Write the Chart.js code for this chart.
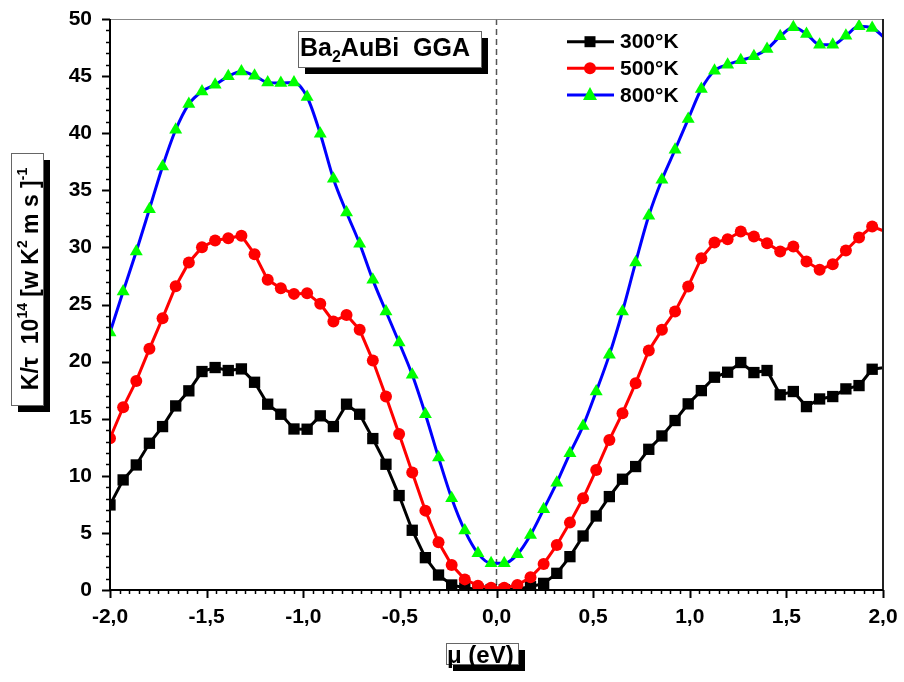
<!DOCTYPE html>
<html>
<head>
<meta charset="utf-8">
<script src="https://cdn.jsdelivr.net/npm/chart.js@4.4.1/dist/chart.umd.min.js"></script>
<style>
  html, body { margin: 0; padding: 0; background: #fff; }
  canvas { display: block; }
</style>
</head>
<body>
<canvas id="kappaChart" width="904" height="682"></canvas>
<script>
// chemical potential (eV), one entry per plotted marker
var mu = [-2.000, -1.932, -1.864, -1.796, -1.728, -1.660, -1.592, -1.524, -1.456, -1.388,
  -1.320, -1.252, -1.184, -1.116, -1.048, -0.980, -0.912, -0.844, -0.776, -0.708,
  -0.640, -0.572, -0.504, -0.436, -0.368, -0.300, -0.232, -0.164, -0.096, -0.028,
  0.040, 0.108, 0.176, 0.244, 0.312, 0.380, 0.448, 0.516, 0.584, 0.652,
  0.720, 0.788, 0.856, 0.924, 0.992, 1.060, 1.128, 1.196, 1.264, 1.332,
  1.400, 1.468, 1.536, 1.604, 1.672, 1.740, 1.808, 1.876, 1.944, 2.012];

// K/tau (10^14 W/K m s)
var k300 = [7.45, 9.64, 10.95, 12.85, 14.31, 16.12, 17.44, 19.13, 19.48, 19.22,
  19.36, 18.19, 16.27, 15.39, 14.10, 14.08, 15.25, 14.31, 16.27, 15.39,
  13.26, 11.01, 8.27, 5.23, 2.83, 1.31, 0.44, 0.18, 0.06, 0.02,
  0.02, 0.08, 0.29, 0.58, 1.46, 2.92, 4.73, 6.48, 8.18, 9.70,
  10.81, 12.32, 13.49, 14.84, 16.30, 17.46, 18.63, 19.07, 19.92, 19.04,
  19.22, 17.09, 17.38, 16.06, 16.73, 16.94, 17.61, 17.90, 19.33, 19.50];
var k500 = [13.29, 16.00, 18.31, 21.12, 23.80, 26.60, 28.68, 30.02, 30.61, 30.81,
  31.02, 29.41, 27.16, 26.43, 25.93, 25.99, 25.06, 23.51, 24.09, 22.78,
  20.09, 16.94, 13.67, 10.28, 6.95, 4.18, 2.19, 0.93, 0.38, 0.20,
  0.20, 0.44, 1.11, 2.28, 3.94, 5.90, 8.03, 10.51, 13.14, 15.48,
  18.11, 20.97, 22.78, 24.39, 26.58, 29.06, 30.43, 30.72, 31.40, 30.96,
  30.37, 29.64, 30.08, 28.77, 28.04, 28.53, 29.73, 30.87, 31.83, 31.40];
var k800 = [22.55, 26.14, 29.64, 33.35, 37.09, 40.30, 42.55, 43.66, 44.25, 44.98,
  45.41, 45.03, 44.45, 44.39, 44.45, 43.17, 39.95, 36.01, 33.06, 30.32,
  27.16, 24.39, 21.67, 18.84, 15.39, 11.60, 8.03, 5.20, 3.21, 2.34,
  2.34, 3.12, 4.82, 7.07, 9.40, 11.97, 14.37, 17.38, 20.59, 24.39,
  28.68, 32.77, 35.92, 38.55, 41.24, 43.87, 45.47, 46.00, 46.38, 46.73,
  47.37, 48.48, 49.27, 48.69, 47.75, 47.75, 48.54, 49.36, 49.21, 48.30];

var seriesNames = ['300°K', '500°K', '800°K'];

var FONT = '"Liberation Sans", Arial, sans-serif';

function pts(vals) {
  return mu.map(function(x, i) { return {x: x, y: vals[i]}; });
}
// no marker past the right edge of the axis
function rad(r) {
  return function(ctx) { return ctx.raw && ctx.raw.x > 2 ? 0 : r; };
}

// frame, ticks, boxes and legend drawn by hand
var decor = {
  id: 'decor',
  beforeDatasetsDraw: function(chart) {
    var c = chart.ctx, a = chart.chartArea;
    var x0 = chart.scales.x.getPixelForValue(0);
    c.save();
    c.strokeStyle = '#555';
    c.lineWidth = 1.5;
    c.setLineDash([6, 4]);
    c.beginPath();
    c.moveTo(x0, a.top);
    c.lineTo(x0, a.bottom);
    c.stroke();
    c.restore();
  },
  afterDraw: function(chart) {
    var c = chart.ctx, a = chart.chartArea;
    var xs = chart.scales.x, ys = chart.scales.y;
    c.save();
    // frame
    c.strokeStyle = '#888';
    c.lineWidth = 1;
    c.beginPath();
    c.moveTo(a.left, a.top + 0.5);
    c.lineTo(a.right, a.top + 0.5);
    c.stroke();
    c.strokeStyle = '#222';
    c.lineWidth = 2;
    c.beginPath();
    c.moveTo(a.right, a.top);
    c.lineTo(a.right, a.bottom);
    c.stroke();
    c.strokeStyle = '#000';
    c.beginPath();
    c.moveTo(a.left, a.top);
    c.lineTo(a.left, a.bottom);
    c.lineTo(a.right, a.bottom);
    c.stroke();

    // ticks
    for (var v = 0; v <= 50; v++) {
      var py = Math.round(ys.getPixelForValue(v)) + 0.5;
      var len = v % 5 === 0 ? 8 : 4;
      c.lineWidth = v % 5 === 0 ? 2 : 1.5;
      c.beginPath();
      c.moveTo(a.left - len, py);
      c.lineTo(a.left, py);
      c.stroke();
    }
    for (var i = 0; i <= 80; i++) {
      var px = Math.round(xs.getPixelForValue(-2 + i * 0.05)) + 0.5;
      var tl = i % 10 === 0 ? 8 : 4;
      c.lineWidth = i % 10 === 0 ? 2 : 1.5;
      c.beginPath();
      c.moveTo(px, a.bottom);
      c.lineTo(px, a.bottom + tl);
      c.stroke();
    }

    function box(x, y, w, h) {
      c.fillStyle = '#000';
      c.fillRect(x + 7, y + 7, w, h);
      c.fillStyle = '#fff';
      c.fillRect(x, y, w, h);
      c.strokeStyle = '#666';
      c.lineWidth = 1;
      c.strokeRect(x + 0.5, y + 0.5, w, h);
    }

    // title box
    box(298, 31, 183, 36);
    c.fillStyle = '#000';
    c.textBaseline = 'alphabetic';
    c.textAlign = 'left';
    c.font = 'bold 25px ' + FONT;
    c.fillText('Ba', 300, 56);
    var w1 = c.measureText('Ba').width;
    c.font = 'bold 16px ' + FONT;
    c.fillText('2', 300 + w1, 62);
    var w2 = c.measureText('2').width;
    c.font = 'bold 25px ' + FONT;
    c.fillText('AuBi  GGA', 300 + w1 + w2, 56);

    // x title
    box(446, 643, 72, 21);
    c.fillStyle = '#000';
    c.font = 'bold 24px ' + FONT;
    c.fillText('\u03bc (eV)', 447, 663);

    // y title (rotated)
    box(11, 153, 32, 252);
    var parts = [
      ['K/\u03c4  10', 0], ['14', 1], [' [w K', 0], ['2', 1], [' m s ]', 0], ['-1', 1]
    ];
    c.save();
    c.translate(38, 0);
    c.rotate(-Math.PI / 2);
    var total = 0;
    parts.forEach(function(p) {
      c.font = p[1] ? 'bold 14px ' + FONT : 'bold 23px ' + FONT;
      total += c.measureText(p[0]).width;
    });
    var tx = -279 - total / 2;
    c.fillStyle = '#000';
    parts.forEach(function(p) {
      c.font = p[1] ? 'bold 14px ' + FONT : 'bold 23px ' + FONT;
      c.fillText(p[0], tx, p[1] ? -11 : 0);
      tx += c.measureText(p[0]).width;
    });
    c.restore();

    // legend
    var rows = [41.7, 68.3, 95];
    chart.data.datasets.forEach(function(ds, k) {
      var ly = rows[k];
      c.strokeStyle = ds.borderColor;
      c.lineWidth = 3;
      c.beginPath();
      c.moveTo(567, ly);
      c.lineTo(614, ly);
      c.stroke();
      c.fillStyle = ds.pointBackgroundColor;
      c.beginPath();
      if (ds.pointStyle === 'rect') {
        c.rect(584.5, ly - 5.5, 11, 11);
      } else if (ds.pointStyle === 'circle') {
        c.arc(590, ly, 6, 0, Math.PI * 2);
      } else {
        c.moveTo(590, ly - 8);
        c.lineTo(597, ly + 5);
        c.lineTo(583, ly + 5);
        c.closePath();
      }
      c.fill();
      c.fillStyle = '#000';
      c.font = 'bold 21px ' + FONT;
      c.textBaseline = 'middle';
      c.fillText(seriesNames[k], 620, ly + 1);
    });
    c.restore();
  }
};

var tickFont = {family: FONT, size: 21, weight: 'bold'};

new Chart(document.getElementById('kappaChart').getContext('2d'), {
  type: 'line',
  data: {
    datasets: [
      {
        label: seriesNames[0], data: pts(k300), order: 3,
        borderColor: '#000', borderWidth: 3, tension: 0,
        pointStyle: 'rect', pointRadius: rad(8),
        pointBackgroundColor: '#000', pointBorderColor: '#000', pointBorderWidth: 0
      },
      {
        label: seriesNames[1], data: pts(k500), order: 2,
        borderColor: '#ff0000', borderWidth: 3, tension: 0,
        pointStyle: 'circle', pointRadius: rad(6),
        pointBackgroundColor: '#ff0000', pointBorderColor: '#ff0000', pointBorderWidth: 0
      },
      {
        label: seriesNames[2], data: pts(k800), order: 1,
        borderColor: '#0000ff', borderWidth: 3, cubicInterpolationMode: 'monotone',
        pointStyle: 'triangle', pointRadius: rad(7.5),
        pointBackgroundColor: '#00ff00', pointBorderColor: '#00ff00', pointBorderWidth: 0
      }
    ]
  },
  options: {
    responsive: false,
    animation: false,
    devicePixelRatio: 1,
    layout: {padding: {top: 19, right: 21, left: 0, bottom: 0}},
    plugins: {legend: {display: false}, tooltip: {enabled: false}},
    scales: {
      x: {
        type: 'linear', min: -2, max: 2,
        border: {display: false},
        grid: {display: false, drawTicks: false},
        ticks: {
          stepSize: 0.5, padding: 15, color: '#000', font: tickFont, maxRotation: 0,
          callback: function(v) { return v.toFixed(1).replace('.', ','); }
        },
        afterFit: function(s) { s.height = 92; s.paddingLeft = 0; s.paddingRight = 0; }
      },
      y: {
        min: 0, max: 50,
        border: {display: false},
        grid: {display: false, drawTicks: false},
        ticks: {stepSize: 5, padding: 18, color: '#000', font: tickFont},
        afterFit: function(s) { s.width = 110; s.paddingTop = 0; s.paddingBottom = 0; }
      }
    }
  },
  plugins: [decor]
});
</script>
</body>
</html>
